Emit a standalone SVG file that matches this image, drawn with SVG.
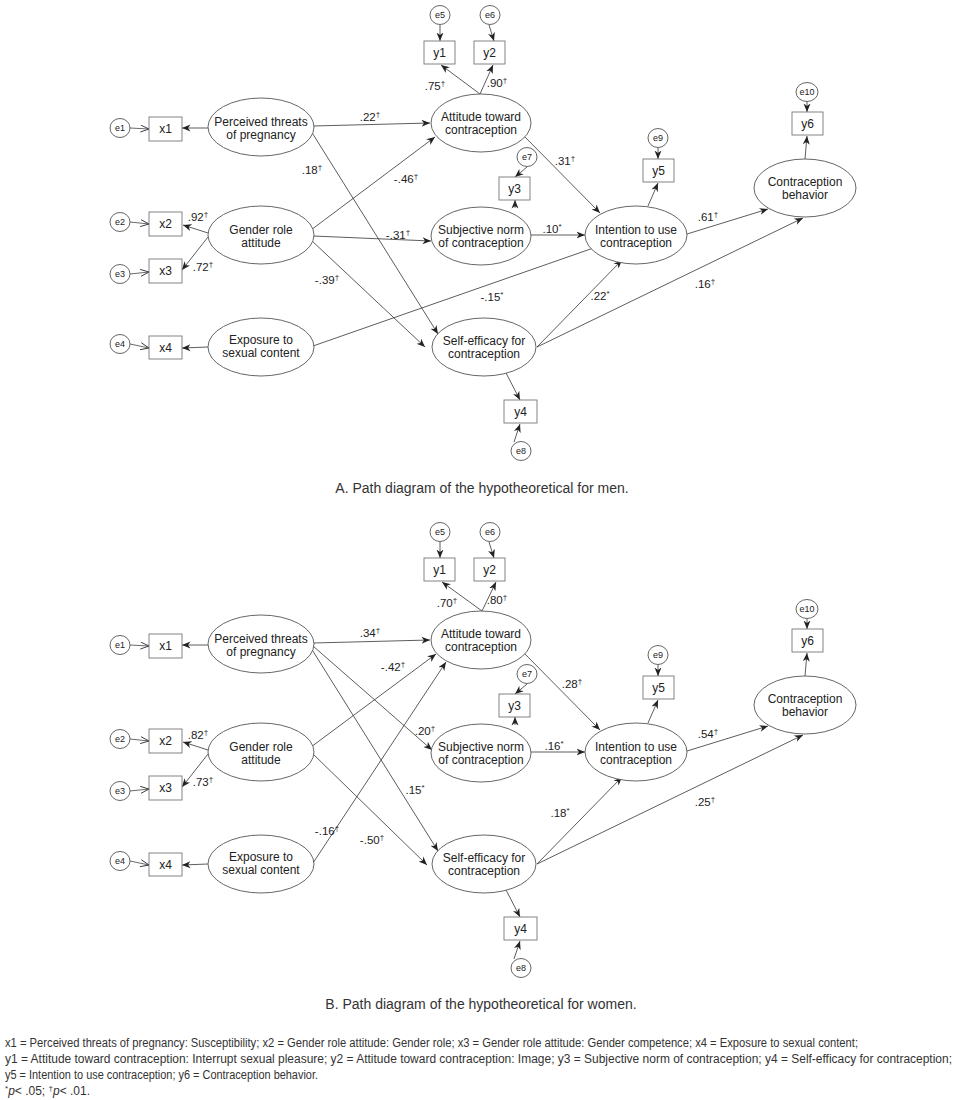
<svg xmlns="http://www.w3.org/2000/svg" width="956" height="1100" viewBox="0 0 956 1100">
<defs>
<marker id="ah" markerUnits="userSpaceOnUse" markerWidth="9" markerHeight="8" refX="8.5" refY="4" orient="auto"><path d="M0,0.5 L8.5,4 L0,7.5 L2.5,4 z" fill="#222"/></marker>
<marker id="ao" markerUnits="userSpaceOnUse" markerWidth="9" markerHeight="8" refX="8.5" refY="4" orient="auto"><path d="M0,0.5 L8.5,4 L0,7.5" fill="none" stroke="#333" stroke-width="0.9"/></marker>
</defs>
<style>
.bg{fill:#fff}
.el{fill:#fff;stroke:#555;stroke-width:0.9}
.bx{fill:#fff;stroke:#777;stroke-width:0.9}
.ec{fill:#fff;stroke:#555;stroke-width:0.9}
.t{font-family:"Liberation Sans",Arial,sans-serif;font-size:12px;fill:#222;text-anchor:middle}
.te{font-family:"Liberation Sans",Arial,sans-serif;font-size:9px;fill:#222;text-anchor:middle}
.lb{font-family:"Liberation Sans",Arial,sans-serif;font-size:11.5px;fill:#222;text-anchor:middle}
.sup{font-size:8px}
.ed{fill:none;stroke:#333;stroke-width:0.8;marker-end:url(#ah)}
.eo{fill:none;stroke:#444;stroke-width:0.8;marker-end:url(#ao)}
.cap{font-family:"Liberation Sans Narrow","Liberation Sans",Arial,sans-serif;font-size:14px;fill:#333;text-anchor:middle}
.fn{font-family:"Liberation Sans Narrow","Liberation Sans",Arial,sans-serif;font-size:12px;fill:#333}
</style>
<rect class="bg" x="0" y="0" width="956" height="1100"/>

<!-- ===== Part A ===== -->
<g id="A-connectors">
<path class="eo" d="M130,128 L149,129"/>
<path class="eo" d="M130,222 L149,224"/>
<path class="eo" d="M130,274 L149,272"/>
<path class="eo" d="M130,344 L149,348"/>
<path class="ed" d="M208,128 L182,128"/>
<path class="ed" d="M208,233 L183,225"/>
<path class="ed" d="M208,237 L182,270"/>
<path class="ed" d="M208,347 L182,348"/>
<path class="ed" d="M440,25 L440,41"/>
<path class="ed" d="M489,25 L494,41"/>
<path class="ed" d="M480,94 L441,65"/>
<path class="ed" d="M480,94 L493,65"/>
<path class="ed" d="M527,167 L515,177"/>
<path class="ed" d="M515,208 L515,200"/>
<path class="ed" d="M658,148 L658,159"/>
<path class="ed" d="M648,206 L658,183"/>
<path class="ed" d="M807,102 L807,112"/>
<path class="ed" d="M805,159 L807,136"/>
<path class="ed" d="M505,371 L520,400"/>
<path class="ed" d="M514,442 L520,424"/>
<path class="ed" d="M313,126 L430,123"/>
<path class="ed" d="M311,131 L438,334"/>
<path class="ed" d="M311,230 L435,137"/>
<path class="ed" d="M313,236 L431,241"/>
<path class="ed" d="M311,240 L425,347"/>
<path class="ed" d="M313,346 L602,245"/>
<path class="ed" d="M524,136 L600,213"/>
<path class="ed" d="M531,235 L585,235"/>
<path class="ed" d="M537,347 L622,260"/>
<path class="ed" d="M537,347 L803,218"/>
<path class="ed" d="M687,234 L768,209"/>
</g>
<g id="A-labels">
<text class="lb" x="370" y="121">.22<tspan class="sup" dy="-4">†</tspan></text>
<text class="lb" x="312" y="174">.18<tspan class="sup" dy="-4">†</tspan></text>
<text class="lb" x="406" y="183">-.46<tspan class="sup" dy="-4">†</tspan></text>
<text class="lb" x="398" y="239">-.31<tspan class="sup" dy="-4">†</tspan></text>
<text class="lb" x="198" y="221">.92<tspan class="sup" dy="-4">†</tspan></text>
<text class="lb" x="203" y="271">.72<tspan class="sup" dy="-4">†</tspan></text>
<text class="lb" x="327" y="284">-.39<tspan class="sup" dy="-4">†</tspan></text>
<text class="lb" x="492" y="301">-.15<tspan class="sup" dy="-4">*</tspan></text>
<text class="lb" x="435" y="90">.75<tspan class="sup" dy="-4">†</tspan></text>
<text class="lb" x="497" y="87">.90<tspan class="sup" dy="-4">†</tspan></text>
<text class="lb" x="565" y="165">.31<tspan class="sup" dy="-4">†</tspan></text>
<text class="lb" x="552" y="233">.10<tspan class="sup" dy="-4">*</tspan></text>
<text class="lb" x="708" y="221">.61<tspan class="sup" dy="-4">†</tspan></text>
<text class="lb" x="600" y="300">.22<tspan class="sup" dy="-4">*</tspan></text>
<text class="lb" x="705" y="288">.16<tspan class="sup" dy="-4">†</tspan></text>
</g>
<g id="A-e1"><ellipse class="ec" cx="120" cy="128" rx="10" ry="9.5"/><text class="te" x="120" y="131">e1</text></g>
<g id="A-e2"><ellipse class="ec" cx="120" cy="222" rx="10" ry="9.5"/><text class="te" x="120" y="225">e2</text></g>
<g id="A-e3"><ellipse class="ec" cx="120" cy="274" rx="10" ry="9.5"/><text class="te" x="120" y="277">e3</text></g>
<g id="A-e4"><ellipse class="ec" cx="120" cy="344" rx="10" ry="9.5"/><text class="te" x="120" y="347">e4</text></g>
<g id="A-x1"><rect class="bx" x="149" y="117" width="33" height="24"/><text class="t" x="165.5" y="133">x1</text></g>
<g id="A-x2"><rect class="bx" x="149" y="212" width="33" height="24"/><text class="t" x="165.5" y="228">x2</text></g>
<g id="A-x3"><rect class="bx" x="149" y="259" width="33" height="24"/><text class="t" x="165.5" y="275">x3</text></g>
<g id="A-x4"><rect class="bx" x="149" y="336" width="33" height="23"/><text class="t" x="165.5" y="352">x4</text></g>
<g id="A-perceived"><ellipse class="el" cx="261" cy="127" rx="53" ry="29"/><text class="t" x="261" y="126">Perceived threats</text><text class="t" x="261" y="139">of pregnancy</text></g>
<g id="A-gender"><ellipse class="el" cx="261" cy="235" rx="53" ry="29"/><text class="t" x="261" y="234">Gender role</text><text class="t" x="261" y="247">attitude</text></g>
<g id="A-exposure"><ellipse class="el" cx="261" cy="347" rx="53" ry="29"/><text class="t" x="261" y="344">Exposure to</text><text class="t" x="261" y="357">sexual content</text></g>
<g id="A-attitude"><ellipse class="el" cx="481" cy="123" rx="50" ry="29"/><text class="t" x="481" y="121">Attitude toward</text><text class="t" x="481" y="134">contraception</text></g>
<g id="A-subjective"><ellipse class="el" cx="481" cy="236" rx="50" ry="29"/><text class="t" x="481" y="234">Subjective norm</text><text class="t" x="481" y="247">of contraception</text></g>
<g id="A-selfefficacy"><ellipse class="el" cx="484" cy="347" rx="52" ry="29"/><text class="t" x="484" y="345">Self-efficacy for</text><text class="t" x="484" y="358">contraception</text></g>
<g id="A-intention"><ellipse class="el" cx="636" cy="235" rx="51" ry="29"/><text class="t" x="636" y="234">Intention to use</text><text class="t" x="636" y="247">contraception</text></g>
<g id="A-behavior"><ellipse class="el" cx="805" cy="188" rx="51" ry="29"/><text class="t" x="805" y="186">Contraception</text><text class="t" x="805" y="199">behavior</text></g>
<g id="A-y1"><rect class="bx" x="424" y="41" width="31" height="23"/><text class="t" x="439.5" y="57">y1</text></g>
<g id="A-y2"><rect class="bx" x="474" y="41" width="31" height="23"/><text class="t" x="489.5" y="57">y2</text></g>
<g id="A-y3"><rect class="bx" x="499" y="177" width="31" height="23"/><text class="t" x="514.5" y="193">y3</text></g>
<g id="A-y4"><rect class="bx" x="504" y="400" width="33" height="23"/><text class="t" x="520.5" y="416">y4</text></g>
<g id="A-y5"><rect class="bx" x="643" y="159" width="31" height="23"/><text class="t" x="658.5" y="175">y5</text></g>
<g id="A-y6"><rect class="bx" x="792" y="112" width="31" height="23"/><text class="t" x="807.5" y="128">y6</text></g>
<g id="A-e5"><ellipse class="ec" cx="440" cy="15" rx="10" ry="9.5"/><text class="te" x="440" y="18">e5</text></g>
<g id="A-e6"><ellipse class="ec" cx="490" cy="15" rx="10" ry="9.5"/><text class="te" x="490" y="18">e6</text></g>
<g id="A-e7"><ellipse class="ec" cx="527" cy="157" rx="10" ry="9.5"/><text class="te" x="527" y="160">e7</text></g>
<g id="A-e8"><ellipse class="ec" cx="521" cy="451" rx="10" ry="9.5"/><text class="te" x="521" y="454">e8</text></g>
<g id="A-e9"><ellipse class="ec" cx="658" cy="138" rx="10" ry="9.5"/><text class="te" x="658" y="141">e9</text></g>
<g id="A-e10"><ellipse class="ec" cx="807" cy="92" rx="11" ry="9.5"/><text class="te" x="807" y="95">e10</text></g>
<text class="cap" x="482" y="493">A. Path diagram of the hypotheoretical for men.</text>

<!-- ===== Part B ===== -->
<g id="B-connectors">
<path class="eo" d="M130,645 L149,646"/>
<path class="eo" d="M130,739 L149,741"/>
<path class="eo" d="M130,791 L149,789"/>
<path class="eo" d="M130,861 L149,865"/>
<path class="ed" d="M208,645 L182,645"/>
<path class="ed" d="M208,750 L183,742"/>
<path class="ed" d="M208,754 L182,787"/>
<path class="ed" d="M208,864 L182,865"/>
<path class="ed" d="M440,542 L440,558"/>
<path class="ed" d="M489,542 L494,558"/>
<path class="ed" d="M482,611 L442,582"/>
<path class="ed" d="M482,611 L496,582"/>
<path class="ed" d="M527,684 L515,694"/>
<path class="ed" d="M515,725 L515,717"/>
<path class="ed" d="M658,665 L658,676"/>
<path class="ed" d="M648,723 L658,700"/>
<path class="ed" d="M807,619 L807,629"/>
<path class="ed" d="M805,676 L807,653"/>
<path class="ed" d="M505,888 L520,917"/>
<path class="ed" d="M514,959 L520,941"/>
<path class="ed" d="M313,643 L430,640"/>
<path class="ed" d="M313,646 L432,750"/>
<path class="ed" d="M311,648 L438,851"/>
<path class="ed" d="M311,747 L436,654"/>
<path class="ed" d="M313,863 L446,662"/>
<path class="ed" d="M312,753 L427,865"/>
<path class="ed" d="M524,653 L600,730"/>
<path class="ed" d="M531,752 L585,752"/>
<path class="ed" d="M537,864 L622,777"/>
<path class="ed" d="M537,864 L803,735"/>
<path class="ed" d="M687,751 L768,726"/>
</g>
<g id="B-labels">
<text class="lb" x="447" y="607">.70<tspan class="sup" dy="-4">†</tspan></text>
<text class="lb" x="497" y="604">.80<tspan class="sup" dy="-4">†</tspan></text>
<text class="lb" x="370" y="637">.34<tspan class="sup" dy="-4">†</tspan></text>
<text class="lb" x="393" y="671">-.42<tspan class="sup" dy="-4">†</tspan></text>
<text class="lb" x="198" y="739">.82<tspan class="sup" dy="-4">†</tspan></text>
<text class="lb" x="425" y="735">.20<tspan class="sup" dy="-4">†</tspan></text>
<text class="lb" x="203" y="786">.73<tspan class="sup" dy="-4">†</tspan></text>
<text class="lb" x="415" y="794">.15<tspan class="sup" dy="-4">*</tspan></text>
<text class="lb" x="327" y="835">-.16<tspan class="sup" dy="-4">†</tspan></text>
<text class="lb" x="372" y="844">-.50<tspan class="sup" dy="-4">†</tspan></text>
<text class="lb" x="572" y="688">.28<tspan class="sup" dy="-4">†</tspan></text>
<text class="lb" x="554" y="750">.16<tspan class="sup" dy="-4">*</tspan></text>
<text class="lb" x="708" y="738">.54<tspan class="sup" dy="-4">†</tspan></text>
<text class="lb" x="560" y="817">.18<tspan class="sup" dy="-4">*</tspan></text>
<text class="lb" x="705" y="806">.25<tspan class="sup" dy="-4">†</tspan></text>
</g>
<g id="B-e1"><ellipse class="ec" cx="120" cy="645" rx="10" ry="9.5"/><text class="te" x="120" y="648">e1</text></g>
<g id="B-e2"><ellipse class="ec" cx="120" cy="739" rx="10" ry="9.5"/><text class="te" x="120" y="742">e2</text></g>
<g id="B-e3"><ellipse class="ec" cx="120" cy="791" rx="10" ry="9.5"/><text class="te" x="120" y="794">e3</text></g>
<g id="B-e4"><ellipse class="ec" cx="120" cy="861" rx="10" ry="9.5"/><text class="te" x="120" y="864">e4</text></g>
<g id="B-x1"><rect class="bx" x="149" y="634" width="33" height="24"/><text class="t" x="165.5" y="650">x1</text></g>
<g id="B-x2"><rect class="bx" x="149" y="729" width="33" height="24"/><text class="t" x="165.5" y="745">x2</text></g>
<g id="B-x3"><rect class="bx" x="149" y="776" width="33" height="24"/><text class="t" x="165.5" y="792">x3</text></g>
<g id="B-x4"><rect class="bx" x="149" y="853" width="33" height="23"/><text class="t" x="165.5" y="869">x4</text></g>
<g id="B-perceived"><ellipse class="el" cx="261" cy="644" rx="53" ry="29"/><text class="t" x="261" y="643">Perceived threats</text><text class="t" x="261" y="656">of pregnancy</text></g>
<g id="B-gender"><ellipse class="el" cx="261" cy="752" rx="53" ry="29"/><text class="t" x="261" y="751">Gender role</text><text class="t" x="261" y="764">attitude</text></g>
<g id="B-exposure"><ellipse class="el" cx="261" cy="864" rx="53" ry="29"/><text class="t" x="261" y="861">Exposure to</text><text class="t" x="261" y="874">sexual content</text></g>
<g id="B-attitude"><ellipse class="el" cx="481" cy="640" rx="50" ry="29"/><text class="t" x="481" y="638">Attitude toward</text><text class="t" x="481" y="651">contraception</text></g>
<g id="B-subjective"><ellipse class="el" cx="481" cy="753" rx="50" ry="29"/><text class="t" x="481" y="751">Subjective norm</text><text class="t" x="481" y="764">of contraception</text></g>
<g id="B-selfefficacy"><ellipse class="el" cx="484" cy="864" rx="52" ry="29"/><text class="t" x="484" y="862">Self-efficacy for</text><text class="t" x="484" y="875">contraception</text></g>
<g id="B-intention"><ellipse class="el" cx="636" cy="752" rx="51" ry="29"/><text class="t" x="636" y="751">Intention to use</text><text class="t" x="636" y="764">contraception</text></g>
<g id="B-behavior"><ellipse class="el" cx="805" cy="705" rx="51" ry="29"/><text class="t" x="805" y="703">Contraception</text><text class="t" x="805" y="716">behavior</text></g>
<g id="B-y1"><rect class="bx" x="424" y="558" width="31" height="23"/><text class="t" x="439.5" y="574">y1</text></g>
<g id="B-y2"><rect class="bx" x="474" y="558" width="31" height="23"/><text class="t" x="489.5" y="574">y2</text></g>
<g id="B-y3"><rect class="bx" x="499" y="694" width="31" height="23"/><text class="t" x="514.5" y="710">y3</text></g>
<g id="B-y4"><rect class="bx" x="504" y="917" width="33" height="23"/><text class="t" x="520.5" y="933">y4</text></g>
<g id="B-y5"><rect class="bx" x="643" y="676" width="31" height="23"/><text class="t" x="658.5" y="692">y5</text></g>
<g id="B-y6"><rect class="bx" x="792" y="629" width="31" height="23"/><text class="t" x="807.5" y="645">y6</text></g>
<g id="B-e5"><ellipse class="ec" cx="440" cy="532" rx="10" ry="9.5"/><text class="te" x="440" y="535">e5</text></g>
<g id="B-e6"><ellipse class="ec" cx="490" cy="532" rx="10" ry="9.5"/><text class="te" x="490" y="535">e6</text></g>
<g id="B-e7"><ellipse class="ec" cx="527" cy="674" rx="10" ry="9.5"/><text class="te" x="527" y="677">e7</text></g>
<g id="B-e8"><ellipse class="ec" cx="521" cy="968" rx="10" ry="9.5"/><text class="te" x="521" y="971">e8</text></g>
<g id="B-e9"><ellipse class="ec" cx="658" cy="655" rx="10" ry="9.5"/><text class="te" x="658" y="658">e9</text></g>
<g id="B-e10"><ellipse class="ec" cx="807" cy="609" rx="11" ry="9.5"/><text class="te" x="807" y="612">e10</text></g>
<text class="cap" x="481" y="1009">B. Path diagram of the hypotheoretical for women.</text>

<g id="footnotes">
<text class="fn" x="5" y="1047" textLength="853" lengthAdjust="spacingAndGlyphs">x1 = Perceived threats of pregnancy: Susceptibility; x2 = Gender role attitude: Gender role; x3 = Gender role attitude: Gender competence; x4 = Exposure to sexual content;</text>
<text class="fn" x="5" y="1063" textLength="947" lengthAdjust="spacingAndGlyphs">y1 = Attitude toward contraception: Interrupt sexual pleasure; y2 = Attitude toward contraception: Image; y3 = Subjective norm of contraception; y4 = Self-efficacy for contraception;</text>
<text class="fn" x="5" y="1079" textLength="313" lengthAdjust="spacingAndGlyphs">y5 = Intention to use contraception; y6 = Contraception behavior.</text>
<text class="fn" x="5" y="1095"><tspan class="sup" dy="-4">*</tspan><tspan dy="4" font-style="italic">p</tspan>&lt; .05; <tspan class="sup" dy="-4">†</tspan><tspan dy="4" font-style="italic">p</tspan>&lt; .01.</text>
</g>
</svg>
